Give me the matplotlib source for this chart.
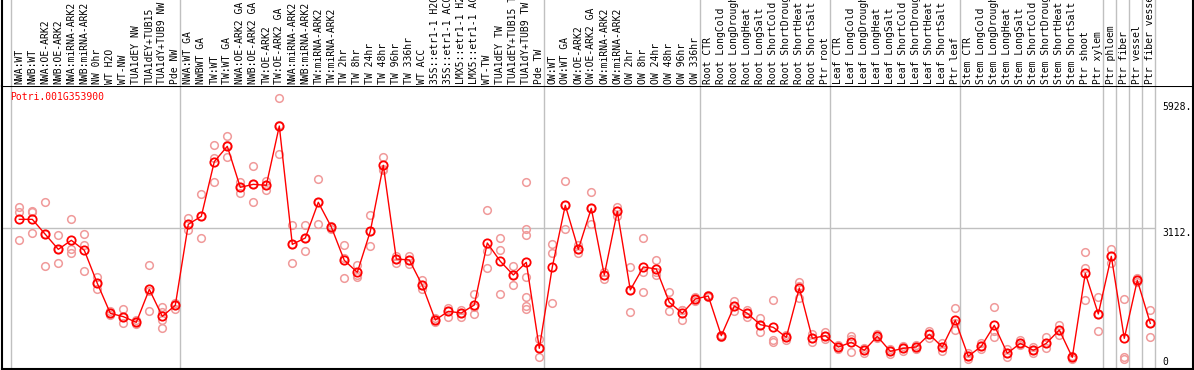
import matplotlib
matplotlib.use("Agg")
import matplotlib.pyplot as plt
import matplotlib.transforms as mtransforms

gene = "Potri.001G353900"

labels = [
    "NWA:WT", "NWB:WT", "NWA:OE-ARK2", "NWB:OE-ARK2", "NWA:miRNA-ARK2", "NWB:miRNA-ARK2",
    "NW 0hr", "WT H2O", "WT-NW", "TUA1dEY NW", "TUA1dEY+TUB15", "TUA1dY+TUB9 NW", "Pde NW",
    "NWA:WT GA", "NWBWT GA", "TW:WT", "TW:WT GA", "NWA:OE-ARK2 GA", "NWB:OE-ARK2 GA",
    "TW:OE-ARK2", "TW:OE-ARK2 GA", "NWA:miRNA-ARK2", "NWB:miRNA-ARK2", "TW:miRNA-ARK2",
    "TW:miRNA-ARK2", "TW 2hr", "TW 8hr", "TW 24hr", "TW 48hr", "TW 96hr", "TW 336hr",
    "WT ACC", "35S::etr1-1 H2O", "35S::etr1-1 ACC", "LMX5::etr1-1 H2O", "LMX5::etr1-1 ACC",
    "WT-TW", "TUA1dEY TW", "TUA1dEY+TUB15 TW", "TUA1dY+TUB9 TW", "Pde TW",
    "OW:WT", "OW:WT GA", "OW:OE-ARK2", "OW:OE-ARK2 GA", "OW:miRNA-ARK2", "OW:miRNA-ARK2",
    "OW 2hr", "OW 8hr", "OW 24hr", "OW 48hr", "OW 96hr", "OW 336hr",
    "Root CTR", "Root LongCold", "Root LongDrought", "Root LongHeat", "Root LongSalt",
    "Root ShortCold", "Root ShortDrought", "Root ShortHeat", "Root ShortSalt", "Ptr root",
    "Leaf CTR", "Leaf LongCold", "Leaf LongDrought", "Leaf LongHeat", "Leaf LongSalt",
    "Leaf ShortCold", "Leaf ShortDrought", "Leaf ShortHeat", "Leaf ShortSalt", "Ptr leaf",
    "Stem CTR", "Stem LongCold", "Stem LongDrought", "Stem LongHeat", "Stem LongSalt",
    "Stem ShortCold", "Stem ShortDrought", "Stem ShortHeat", "Stem ShortSalt",
    "Ptr shoot", "Ptr xylem", "Ptr phloem", "Ptr fiber", "Ptr vessel", "Ptr fiber vessel",
]

# number of samples in each block (separated by grey lines)
group_sizes = [13, 28, 12, 10, 10, 11, 1, 1, 1, 1]

means = [
    3303, 3303, 2968, 2632, 2834, 2610, 1872, 1201, 1126, 999, 1737, 1133, 1380,
    3192, 3371, 4594, 4937, 4019, 4086, 4064, 5391, 2744, 2886, 3684, 3132, 2386,
    2118, 3035, 4511, 2416, 2394, 1827, 1051, 1245, 1208, 1387, 2774, 2364, 2058,
    2341, 418,
    2237, 3617, 2632, 3550, 2058, 3482, 1723, 2237, 2192, 1447, 1201, 1521,
    1588, 701, 1365, 1201, 947, 887, 664, 1767, 641, 701,
    447, 552, 373, 686, 350, 418, 447, 731, 447, 1044,
    239, 462, 932, 306, 529, 373, 529, 828, 216, 2095, 1186,
    2476, 641, 1939, 977,
]

reps = [
    [3572, 3475, 2834], [3497, 3460, 2990], [3684, 2968, 2252], [2946, 2632, 2319],
    [3311, 2632, 2543], [2968, 2722, 2140], [2021, 1872, 1745], [1245, 1201, 1163],
    [1290, 1126, 992], [1051, 999, 954], [2282, 1693, 1245], [1350, 1238, 1051, 865],
    [1424, 1380, 1305],
    [3326, 3192, 3065], [3863, 3371, 2878], [4966, 4668, 4131], [5160, 4959, 4690],
    [4131, 4019, 3885], [4489, 4086, 3684], [4168, 4064, 3967], [6010, 5406, 4758],
    [3177, 2744, 2319], [3177, 2886, 2588], [4206, 3684, 3192], [3154, 3132, 3080],
    [2729, 2431, 1984], [2282, 2058, 2021], [3393, 3035, 2707], [4698, 4429, 4407],
    [2491, 2416, 2319], [2491, 2394, 2297], [1946, 1827, 1737], [1089, 1051, 1014],
    [1327, 1245, 1126], [1275, 1208, 1126], [1633, 1350, 1186], [3505, 2588, 2207],
    [2878, 2610, 1626], [2252, 2058, 1827],
    [4131, 3080, 2946, 2006, 1573, 1365, 1290], [619, 418, 216],
    [2752, 2543, 1424], [4161, 3617, 3080], [2722, 2632, 2543], [3907, 3550, 3192],
    [2133, 2058, 1961], [3579, 3482, 3378], [2230, 1723, 1223], [2878, 2133, 1670],
    [2394, 2133, 2051], [1670, 1447, 1245], [1275, 1275, 1051], [1559, 1521, 1484],
    [1611, 1588, 1566], [723, 701, 679], [1476, 1365, 1253], [1275, 1201, 1126],
    [1089, 947, 776], [1499, 604, 567], [716, 664, 611], [1909, 1812, 1536],
    [731, 641, 567], [790, 701, 619],
    [492, 447, 395], [701, 619, 328], [418, 373, 321], [731, 686, 641],
    [395, 350, 283], [477, 418, 358], [492, 447, 403], [805, 731, 656],
    [529, 447, 350], [1312, 984, 835],
    [306, 239, 186], [529, 462, 395], [1335, 798, 664], [395, 306, 231],
    [604, 529, 485], [455, 373, 306], [664, 529, 418], [932, 828, 716],
    [246, 216, 186], [2565, 2207, 1499], [1559, 1186, 805],
    [2632, 2476, 2319], [1521, 216, 186], [1984, 1939, 1894], [1268, 977, 664],
]

ytick_vals = [0, 3112, 5928]
ytick_text = ["0", "3112.", "5928."]

W, H = 1194, 370
fig = plt.figure(figsize=(W / 100, H / 100), dpi=100)
x0, x1 = 1.5, 1193
xlim = ((x0 - 19.3) / 13, (x1 - 19.3) / 13)
head_px = 86
ax = fig.add_axes([x0 / W, 1 / H, (x1 - x0) / W, (H - 1 - head_px) / H])
hx = fig.add_axes([x0 / W, (H - head_px) / H, (x1 - x0) / W, head_px / H], sharex=ax)

mono = "DejaVu Sans Mono"
grey = "#c0c0c0"
xs = list(range(len(labels)))

# grey separators
bounds = [0]
for g in group_sizes:
    bounds.append(bounds[-1] + g)
seps = [b - 0.65 for b in bounds]
for a in (ax, hx):
    for s in seps:
        a.axvline(s, color=grey, lw=1, zorder=1)
ax.hlines(3112, xlim[0], seps[-1], color=grey, lw=1, zorder=1)

for i, r in enumerate(reps):
    ax.plot([i] * len(r), r, "o", ms=5.5, mfc="none", mec="#f09a9a", mew=1.1, zorder=2)
ax.plot(xs, means, "-", color="red", lw=1, zorder=3)
ax.plot(xs, means, "o", ms=6, mfc="none", mec="red", mew=1.3, zorder=4)

ax.set_xlim(*xlim)
ax.set_ylim(-45, 6286)
ax.set_xticks([])
ax.set_yticks([])
for sp in ax.spines.values():
    sp.set_color("black")
    sp.set_linewidth(1.5)

for v, t in zip(ytick_vals, ytick_text):
    ax.text(87.95, v, t, ha="left", va="bottom" if v == 0 else "top",
            fontsize=7, family=mono, color="black")

ax.text((10 - x0) / (x1 - x0), 0.961, gene, transform=ax.transAxes, ha="left",
        va="center", fontsize=7, family=mono, color="red")

# rotated sample labels in the header
trans = mtransforms.blended_transform_factory(hx.transData, hx.transAxes)
for i, lab in enumerate(labels):
    hx.text(i, 2 / head_px, lab, transform=trans, rotation=90, ha="center",
            va="bottom", fontsize=7, family=mono, color="black", clip_on=True)
hx.set_ylim(0, 1)
hx.set_xticks([])
hx.set_yticks([])
hx.spines["top"].set_visible(False)
hx.spines["bottom"].set_visible(False)
for k in ("left", "right"):
    hx.spines[k].set_linewidth(1.5)

fig.savefig("out.png", dpi=100)
